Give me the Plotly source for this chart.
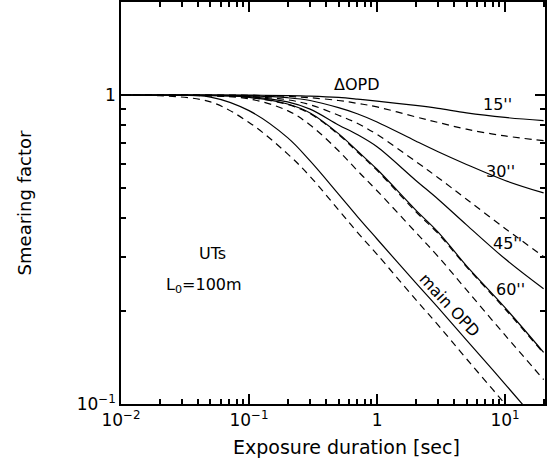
import math
import plotly.graph_objects as go

# Exposure durations [sec]
exposure = [0.01, 0.02, 0.05, 0.1, 0.2, 0.3, 0.5, 0.7, 1, 2, 3, 5, 10, 20]

# Smearing factors (solid = model A, dashed = model B)
d15_solid = [1, 1, 1, 0.999, 0.996, 0.992, 0.982, 0.97, 0.955, 0.925, 0.905, 0.875, 0.846, 0.826]
d15_dash  = [1, 1, 0.999, 0.998, 0.99, 0.98, 0.96, 0.94, 0.915, 0.85, 0.815, 0.775, 0.737, 0.712]
d30_solid = [1, 1, 0.999, 0.995, 0.98, 0.96, 0.91, 0.87, 0.818, 0.71, 0.655, 0.596, 0.529, 0.482]
d30_dash  = [1, 1, 0.998, 0.99, 0.965, 0.93, 0.86, 0.81, 0.745, 0.61, 0.54, 0.46, 0.37, 0.30]
d45_solid = [1, 1, 0.997, 0.988, 0.95, 0.9, 0.8, 0.745, 0.68, 0.53, 0.46, 0.38, 0.295, 0.236]
d45_dash  = [1, 0.999, 0.995, 0.981, 0.932, 0.87, 0.745, 0.655, 0.57, 0.42, 0.356, 0.278, 0.203, 0.146]
d60_solid = [1, 0.999, 0.996, 0.983, 0.935, 0.875, 0.75, 0.66, 0.575, 0.425, 0.36, 0.28, 0.205, 0.147]
d60_dash  = [1, 0.999, 0.993, 0.972, 0.89, 0.8, 0.66, 0.57, 0.49, 0.36, 0.3, 0.234, 0.167, 0.12]
main_solid = [1, 0.998, 0.985, 0.89, 0.728, 0.612, 0.478, 0.405, 0.342, 0.247, 0.205, 0.161, 0.116, 0.083]
main_dash  = [1, 0.995, 0.95, 0.815, 0.645, 0.545, 0.425, 0.36, 0.305, 0.218, 0.18, 0.14, 0.1, 0.071]

x_major = [0.01, 0.1, 1, 10]
x_major_text = ["10<sup>\u22122</sup>", "10<sup>\u22121</sup>", "1", "10<sup>1</sup>"]
y_major = [0.1, 1]
y_major_text = ["10<sup>\u22121</sup>", "1"]

x_minor = [m * d for d in (0.01, 0.1, 1, 10) for m in range(2, 10)]
y_minor = [m * d for d in (0.1, 1) for m in range(2, 10)]

x_title = "Exposure duration [sec]"
y_title = "Smearing factor"

# Label texts and their anchor points (data units)
labels = ["\u0394OPD", "15''", "30''", "45''", "60''", "main OPD", "UTs", "L<sub>0</sub>=100m"]
label_x = [0.70, 8.8, 9.15, 10.4, 11.1, 3.72, 0.0514, 0.0445]
label_y = [1.085, 0.93, 0.564, 0.33, 0.234, 0.209, 0.306, 0.241]
label_angle = [0, 0, 0, 0, 0, 47, 0, 0]

FONT = "DejaVu Sans"
X_RANGE = [-2, 1.312]
Y_RANGE = [-1, 0.301]

fig = go.Figure()
series = [
    (d15_solid, "solid"), (d15_dash, "dash"),
    (d30_solid, "solid"), (d30_dash, "dash"),
    (d45_solid, "solid"), (d45_dash, "dash"),
    (d60_solid, "solid"), (d60_dash, "dash"),
    (main_solid, "solid"), (main_dash, "dash"),
]
for ys, style in series:
    fig.add_trace(go.Scatter(
        x=exposure, y=ys, mode="lines",
        line=dict(color="black", width=1.2, shape="spline", smoothing=1.0,
                  dash="solid" if style == "solid" else "7px,5px"),
        showlegend=False, hoverinfo="skip",
    ))

# invisible trace so the mirrored (top / right) tick axes are drawn
fig.add_trace(go.Scatter(x=[exposure[0]], y=[main_solid[0]], xaxis="x2", yaxis="y2",
                         mode="markers", marker=dict(opacity=0), showlegend=False,
                         hoverinfo="skip"))

minor_x = dict(tickmode="array", tickvals=x_minor, ticks="inside", ticklen=5,
               tickcolor="black", tickwidth=1.5, showgrid=False)
minor_y = dict(tickmode="array", tickvals=y_minor, ticks="inside", ticklen=5,
               tickcolor="black", tickwidth=1.5, showgrid=False)

axis_common = dict(
    showline=True, linecolor="black", linewidth=1.5,
    ticks="inside", ticklen=10, tickwidth=1.5, tickcolor="black",
    showgrid=False, zeroline=False,
    tickfont=dict(family=FONT, size=17, color="black"),
)

fig.update_layout(
    xaxis=dict(type="log", range=X_RANGE, tickmode="array", tickvals=x_major,
               ticktext=x_major_text, minor=minor_x, **axis_common),
    yaxis=dict(type="log", range=Y_RANGE, tickmode="array", tickvals=y_major,
               ticktext=y_major_text, minor=minor_y,
               title=dict(text=y_title,
                          font=dict(family=FONT, size=18, color="black"), standoff=40),
               **axis_common),
    xaxis2=dict(type="log", range=X_RANGE, overlaying="x", side="top", anchor="y2",
                tickmode="array", tickvals=x_major, showticklabels=False, minor=minor_x,
                **axis_common),
    yaxis2=dict(type="log", range=Y_RANGE, overlaying="y", side="right", anchor="x2",
                tickmode="array", tickvals=y_major, showticklabels=False, minor=minor_y,
                **axis_common),
)

# x-axis title (placed as in the reference, slightly right of the axis centre)
fig.add_annotation(x=0.533, y=-0.107, xref="paper", yref="paper", text=x_title,
                   showarrow=False, font=dict(family=FONT, size=19, color="black"),
                   xanchor="center", yanchor="middle")

ann_font = dict(family=FONT, size=16, color="black")
for text, ax, ay, ang in zip(labels, label_x, label_y, label_angle):
    # annotations on log axes are placed in log10 units
    fig.add_annotation(x=math.log10(ax), y=math.log10(ay), xref="x", yref="y",
                       text=text, showarrow=False, font=ann_font, textangle=ang,
                       xanchor="center", yanchor="middle")

fig.update_layout(
    width=555, height=459,
    margin=dict(l=121, r=10, t=2, b=55),
    paper_bgcolor="white", plot_bgcolor="white",
)

fig.write_html("out.html")
